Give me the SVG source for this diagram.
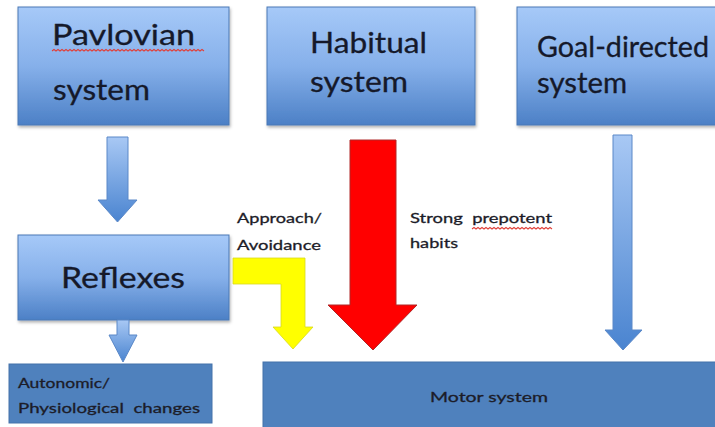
<svg xmlns="http://www.w3.org/2000/svg" width="715" height="427" viewBox="0 0 715 427">
  <defs>
    <linearGradient id="boxGrad" x1="0" y1="0" x2="0" y2="1">
      <stop offset="0" stop-color="#a6c9f8"/>
      <stop offset="0.5" stop-color="#86b0ea"/>
      <stop offset="1" stop-color="#4c80c6"/>
    </linearGradient>
    <linearGradient id="arrowGrad" x1="0" y1="0" x2="0" y2="1">
      <stop offset="0" stop-color="#a8c8f4"/>
      <stop offset="1" stop-color="#4a84d0"/>
    </linearGradient>
    <filter id="shadow" x="-10%" y="-10%" width="130%" height="130%">
      <feDropShadow dx="1" dy="2" stdDeviation="1.5" flood-color="#000" flood-opacity="0.3"/>
    </filter>
  </defs>
  <style>
    .box { fill: url(#boxGrad); stroke: #4a79b5; stroke-width: 1; filter: url(#shadow); }
    .flat { fill: #4f81bd; stroke: #4572aa; stroke-width: 1; }
    .big { font-family: Lato, "Liberation Sans", sans-serif; font-size: 28px; fill: #15192a; stroke: #15192a; stroke-width: 0.3px; }
    .small { font-family: Lato, "Liberation Sans", sans-serif; font-size: 14px; fill: #1c1c28; stroke: #1c1c28; stroke-width: 0.3px; }
    .barrow { fill: url(#arrowGrad); stroke: #5a88c8; stroke-width: 1; }
    .squiggle { fill: none; stroke: #e0403a; stroke-width: 1.1; }
  </style>
  <rect width="715" height="427" fill="#ffffff"/>

  <g id="pavlovian">
    <rect class="box" x="18" y="7" width="211" height="118"/>
    <text class="big" x="52" y="45" textLength="143" lengthAdjust="spacingAndGlyphs">Pavlovian</text>
    <path class="squiggle" d="M52,51 l2,-1.5 l2,1.5 l2,-1.5 l2,1.5 l2,-1.5 l2,1.5 l2,-1.5 l2,1.5 l2,-1.5 l2,1.5 l2,-1.5 l2,1.5 l2,-1.5 l2,1.5 l2,-1.5 l2,1.5 l2,-1.5 l2,1.5 l2,-1.5 l2,1.5 l2,-1.5 l2,1.5 l2,-1.5 l2,1.5 l2,-1.5 l2,1.5 l2,-1.5 l2,1.5 l2,-1.5 l2,1.5 l2,-1.5 l2,1.5 l2,-1.5 l2,1.5 l2,-1.5 l2,1.5 l2,-1.5 l2,1.5 l2,-1.5 l2,1.5 l2,-1.5 l2,1.5 l2,-1.5 l2,1.5 l2,-1.5 l2,1.5 l2,-1.5 l2,1.5 l2,-1.5 l2,1.5 l2,-1.5 l2,1.5 l2,-1.5 l2,1.5 l2,-1.5 l2,1.5 l2,-1.5 l2,1.5 l2,-1.5 l2,1.5 l2,-1.5 l2,1.5 l2,-1.5 l2,1.5 l2,-1.5 l2,1.5 l2,-1.5 l2,1.5 l2,-1.5 l2,1.5 l2,-1.5 l2,1.5 l2,-1.5 l2,1.5 l2,-1.5 l2,1.5"/>
    <text class="big" x="53" y="100" textLength="97" lengthAdjust="spacingAndGlyphs">system</text>
  </g>

  <g id="habitual">
    <rect class="box" x="267" y="7" width="208" height="118"/>
    <text class="big" x="310" y="53" textLength="117" lengthAdjust="spacingAndGlyphs">Habitual</text>
    <text class="big" x="310" y="92" textLength="98" lengthAdjust="spacingAndGlyphs">system</text>
  </g>

  <g id="goal-directed">
    <rect class="box" x="517" y="7" width="215" height="118"/>
    <text class="big" x="537" y="57" textLength="172" lengthAdjust="spacingAndGlyphs">Goal-directed</text>
    <text class="big" x="537" y="93" textLength="90" lengthAdjust="spacingAndGlyphs">system</text>
  </g>

  <g id="reflexes">
    <rect class="box" x="18" y="235" width="211" height="85"/>
    <text class="big" x="61" y="288" textLength="124" lengthAdjust="spacingAndGlyphs">Reflexes</text>
  </g>

  <g id="autonomic">
    <rect class="flat" x="9" y="364" width="203" height="59"/>
    <text class="small" x="18" y="388" textLength="92" lengthAdjust="spacingAndGlyphs">Autonomic/</text>
    <text class="small" x="18" y="413" textLength="182" lengthAdjust="spacingAndGlyphs" xml:space="preserve">Physiological  changes</text>
  </g>

  <g id="motor">
    <rect class="flat" x="263" y="362" width="470" height="80"/>
    <text class="small" x="430" y="402" font-size="15" textLength="118" lengthAdjust="spacingAndGlyphs">Motor system</text>
  </g>

  <g id="connectors">
    <polygon class="barrow" points="107,137 128,137 128,200 137,200 117.5,222 98,200 107,200"/>
    <polygon class="barrow" points="117,320 129,320 129,335 137,335 123,362 109,335 117,335"/>
    <polygon class="barrow" points="613,135 632,135 632,330 642,330 623,350 605,330 613,330"/>
    <polygon fill="#ff0000" stroke="#b02828" stroke-width="1" points="350,140 396,140 396,305 417,305 373,350 328,305 350,305"/>
    <polygon fill="#ffff00" stroke="#d8d820" stroke-width="0.8" points="233,258 305,258 305,327 313,327 293,349 273,327 281,327 281,284 233,284"/>
  </g>

  <g id="labels">
    <text class="small" x="237" y="223" textLength="85" lengthAdjust="spacingAndGlyphs">Approach/</text>
    <text class="small" x="237" y="250" textLength="84" lengthAdjust="spacingAndGlyphs">Avoidance</text>
    <text class="small" x="410" y="223" textLength="142" lengthAdjust="spacingAndGlyphs" xml:space="preserve">Strong  prepotent</text>
    <path class="squiggle" d="M472,229 l2,-1.5 l2,1.5 l2,-1.5 l2,1.5 l2,-1.5 l2,1.5 l2,-1.5 l2,1.5 l2,-1.5 l2,1.5 l2,-1.5 l2,1.5 l2,-1.5 l2,1.5 l2,-1.5 l2,1.5 l2,-1.5 l2,1.5 l2,-1.5 l2,1.5 l2,-1.5 l2,1.5 l2,-1.5 l2,1.5 l2,-1.5 l2,1.5 l2,-1.5 l2,1.5 l2,-1.5 l2,1.5 l2,-1.5 l2,1.5 l2,-1.5 l2,1.5 l2,-1.5 l2,1.5 l2,-1.5 l2,1.5 l2,-1.5 l2,1.5"/>
    <text class="small" x="410" y="248" textLength="48" lengthAdjust="spacingAndGlyphs">habits</text>
  </g>
</svg>
